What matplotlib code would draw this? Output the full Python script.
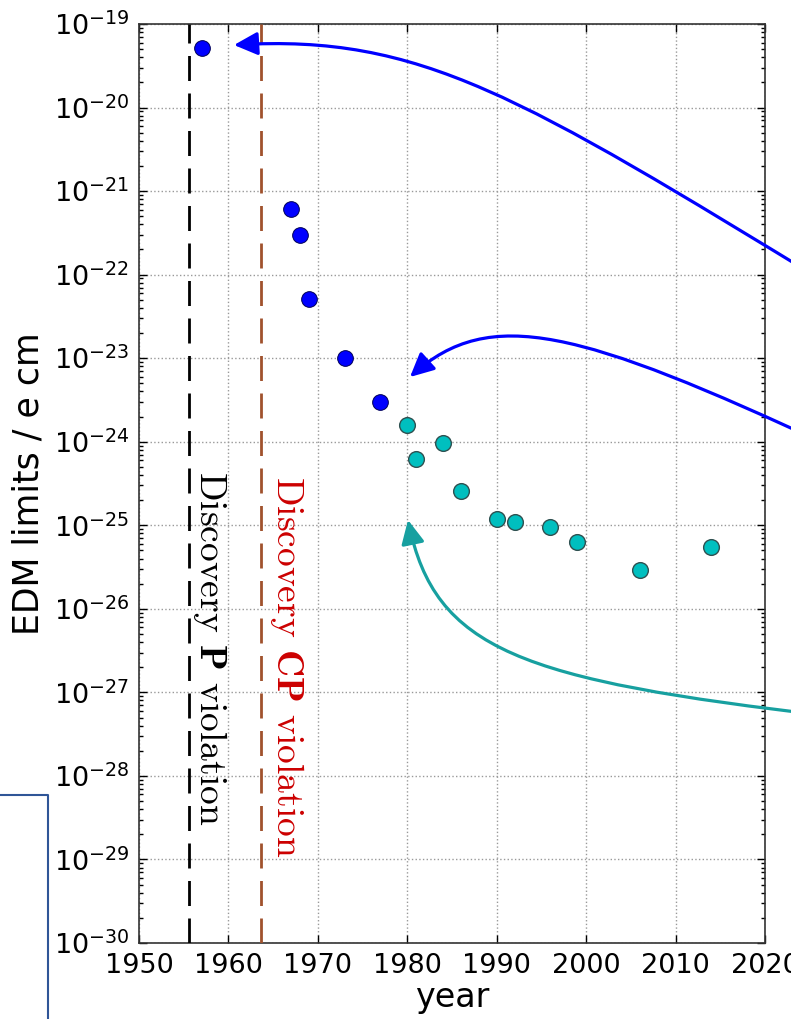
import matplotlib
matplotlib.use("Agg")
import matplotlib.pyplot as plt
from matplotlib.patches import FancyArrowPatch
from matplotlib.path import Path
from matplotlib.lines import Line2D
from matplotlib.ticker import LogLocator
import numpy as np

# EDM limits (year, e cm)
years_early = [1957, 1967, 1968, 1969, 1973, 1977]
edm_early = [5.2e-20, 6.1e-22, 3.0e-22, 5.1e-23, 1.0e-23, 3.0e-24]

years_late = [1980, 1981, 1984, 1986, 1990, 1992, 1996, 1999, 2006, 2014]
edm_late = [1.6e-24, 6.2e-25, 9.6e-25, 2.6e-25, 1.18e-25, 1.09e-25,
            9.5e-26, 6.3e-26, 2.9e-26, 5.5e-26]

p_violation_year = 1955.6
cp_violation_year = 1963.6

xticks = [1950, 1960, 1970, 1980, 1990, 2000, 2010, 2020]

plt.rcParams['axes.unicode_minus'] = False

W, H = 791, 1019
fig = plt.figure(figsize=(W / 100, H / 100), dpi=100)
ax = fig.add_axes([139 / W, 1 - 943 / H, (765 - 139) / W, (943 - 24) / H])
ax.set_yscale('log')

ax.plot(years_early, edm_early, 'o', color='#0000ff', markersize=11.3,
        markeredgecolor='#000055', markeredgewidth=0.7, zorder=5)
ax.plot(years_late, edm_late, 'o', color='#00bfbf', markersize=11.3,
        markeredgecolor='#2f5050', markeredgewidth=1.0, zorder=5)

ax.axvline(p_violation_year, color='black', lw=2, linestyle=(0, (9, 4.5)), zorder=3)
ax.axvline(cp_violation_year, color='#a0522d', lw=2, linestyle=(0, (9, 4.5)), zorder=3)

ax.text(1957.9, 10 ** -26.47, r'Discovery $\mathbf{P}$ violation', rotation=-90,
        ha='center', va='center', family='cmr10', math_fontfamily='cm',
        fontsize=27, color='black')
ax.text(1966.5, 10 ** -26.69, r'Discovery $\mathbf{CP}$ violation', rotation=-90,
        ha='center', va='center', family='cmr10', math_fontfamily='cm',
        fontsize=27, color='#cc0000')

ax.set_xlim(1950, 2020)
ax.set_ylim(1e-30, 1e-19)
ax.set_xticks(xticks)
ax.yaxis.set_major_locator(LogLocator(base=10, numticks=20))
ax.yaxis.set_minor_locator(LogLocator(base=10, subs=np.arange(2, 10), numticks=20))
ax.grid(True, which='major', color='#999999', linestyle=':', linewidth=1)
ax.tick_params(which='both', direction='in', top=True, right=True, width=1)
ax.tick_params(which='major', length=6, labelsize=19.5, pad=7)
ax.tick_params(which='minor', length=3)
ax.tick_params(axis='x', which='minor', bottom=False, top=False)
for s in ax.spines.values():
    s.set_linewidth(1.2)
    s.set_color('#333333')

ax.set_xlabel('year', fontsize=24, labelpad=2)
ax.set_ylabel('EDM limits / e cm', fontsize=25, labelpad=6)


def px(points):
    # image pixel coords (y down) -> figure fraction
    return [(x / W, 1 - y / H) for x, y in points]


def curved_arrow(points, color):
    path = Path(px(points), [Path.MOVETO, Path.CURVE4, Path.CURVE4, Path.CURVE4])
    arr = FancyArrowPatch(path=path, arrowstyle='-|>,head_length=0.45,head_width=0.22',
                          mutation_scale=32, lw=2.3, color=color,
                          transform=fig.transFigure)
    fig.add_artist(arr)


curved_arrow([(830, 285), (520, 96), (420, 34), (234, 45)], '#0000ff')
curved_arrow([(830, 446), (580, 330), (490, 305), (410, 377)], '#0000ff')
curved_arrow([(830, 716), (520, 680), (435, 650), (408, 520)], '#17a0a0')

# frame piece from the slide at bottom left
fig.add_artist(Line2D([0, 48 / W, 48 / W], [1 - 795 / H, 1 - 795 / H, 0],
                      transform=fig.transFigure, color='#2f5597', lw=1.5))

fig.savefig('out.png', dpi=100)
